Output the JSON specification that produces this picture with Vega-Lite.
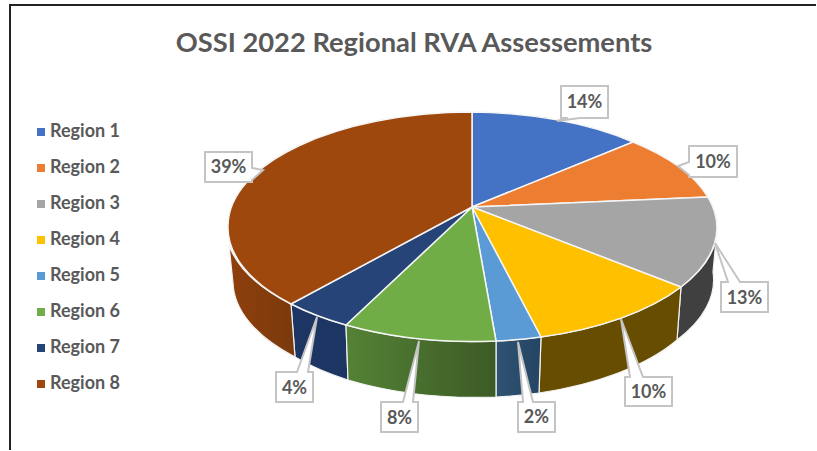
{
"$schema":"https://vega.github.io/schema/vega-lite/v6.json",
"width":816,"height":450,"padding":0,"autosize":{"type":"none"},
"background":"white",
"title":{"text":"OSSI 2022 Regional RVA Assessements","font":"Lato","fontWeight":"bold","fontSize":27.3,"color":"#595959","anchor":"middle","dx":6,"offset":-79,"baseline":"alphabetic"},
"config":{"view":{"stroke":null}},
"data":{"values":[
{"region":"Region 1","num":1,"pct":0.14},
{"region":"Region 2","num":2,"pct":0.10},
{"region":"Region 3","num":3,"pct":0.13},
{"region":"Region 4","num":4,"pct":0.10},
{"region":"Region 5","num":5,"pct":0.02},
{"region":"Region 6","num":6,"pct":0.08},
{"region":"Region 7","num":7,"pct":0.04},
{"region":"Region 8","num":8,"pct":0.39}
]},
"layer":[
{"data":{"values":[{"frame":"border"}]},
 "mark":{"type":"point","shape":"M-398 226L-398 -220L409 -220","size":4,"filled":false,"stroke":"#222222","strokeWidth":2,"opacity":1}},
{"transform":[{"filter":"datum.region == 'Region 3' || datum.region == 'Region 4' || datum.region == 'Region 7'"}],
 "mark":{"type":"point","filled":true,"size":4,"opacity":1,"stroke":"#f2f2f2","strokeWidth":1.2},
 "encoding":{
  "shape":{"field":"region","type":"nominal","legend":null,"scale":{"domain":["Region 3","Region 4","Region 7"],"range":[
   "M273 62A244.5 114 0 0 0 308 15L305 47A240 113 0 0 1 269 115Z",
   "M273 62A244.5 114 0 0 1 133 112L131 168A240 113 0 0 0 269 115Z",
   "M-62 100A244.5 114 0 0 1 -117 79L-113 132A240 113 0 0 0 -60 155Z"]}},
  "color":{"field":"region","type":"nominal","legend":null,"scale":{"domain":["Region 3","Region 4","Region 7"],"range":["#404040","#664d00","#1c3563"]}}
 }},
{"transform":[{"filter":"datum.region == 'Region 5'"}],
 "mark":{"type":"point","size":4,"opacity":1,"stroke":"#f2f2f2","strokeWidth":1.2,"shape":"M133 112A244.5 114 0 0 1 88 116L88 172A240 113 0 0 0 131 168Z",
  "filled":true,"fill":{"gradient":"linear","x1":0,"y1":0,"x2":1,"y2":0,"stops":[{"offset":0,"color":"#2f5373"},{"offset":1,"color":"#244563"}]}}},
{"transform":[{"filter":"datum.region == 'Region 6'"}],
 "mark":{"type":"point","size":4,"opacity":1,"stroke":"#f2f2f2","strokeWidth":1.2,"shape":"M88 116A244.5 114 0 0 1 -62 100L-60 155A240 113 0 0 0 88 172Z",
  "filled":true,"fill":{"gradient":"linear","x1":0,"y1":0,"x2":1,"y2":0,"stops":[{"offset":0,"color":"#548235"},{"offset":1,"color":"#3c5a26"}]}}},
{"transform":[{"filter":"datum.region == 'Region 8'"}],
 "mark":{"type":"point","size":4,"opacity":1,"stroke":"#f2f2f2","strokeWidth":1.2,"shape":"M-117 79A244.5 114 0 0 1 -179 20L-175 58A240 113 0 0 0 -113 132Z",
  "filled":true,"fill":{"gradient":"linear","x1":0,"y1":0,"x2":1,"y2":0,"stops":[{"offset":0,"color":"#8f3f0d"},{"offset":1,"color":"#7a3a0c"}]}}},
{"mark":{"type":"point","filled":true,"size":4,"opacity":1,"stroke":"#f5f5f5","strokeWidth":1.5},
 "encoding":{
  "shape":{"field":"region","type":"nominal","legend":null,"scale":{"domain":["Region 1","Region 2","Region 3","Region 4","Region 5","Region 6","Region 7","Region 8"],"range":[
   "M64 -18L64 -113A244.5 114 0 0 1 225 -83Z",
   "M64 -18L225 -83A244.5 114 0 0 1 300 -28Z",
   "M64 -18L300 -28A244.5 114 0 0 1 273 62Z",
   "M64 -18L273 62A244.5 114 0 0 1 133 112Z",
   "M64 -18L133 112A244.5 114 0 0 1 88 116Z",
   "M64 -18L88 116A244.5 114 0 0 1 -62 100Z",
   "M64 -18L-62 100A244.5 114 0 0 1 -117 79Z",
   "M64 -18L-117 79A244.5 114 0 0 1 -180 1A244.5 114 0 0 1 64 -113Z"]}},
  "color":{"field":"region","type":"nominal","legend":null,"scale":{"domain":["Region 1","Region 2","Region 3","Region 4","Region 5","Region 6","Region 7","Region 8"],"range":["#4472c4","#ed7d31","#a5a5a5","#ffc000","#5b9bd5","#70ad47","#264478","#9e480e"]}}
 }},
{"mark":{"type":"square","size":0,"opacity":1},
 "encoding":{
  "color":{"field":"region","type":"nominal","scale":{"domain":["Region 1","Region 2","Region 3","Region 4","Region 5","Region 6","Region 7","Region 8"],"range":["#4472c4","#ed7d31","#a5a5a5","#ffc000","#5b9bd5","#70ad47","#264478","#9e480e"]},
   "legend":{"title":null,"orient":"none","legendX":32,"legendY":123,"symbolType":"square","symbolSize":64,"symbolStrokeWidth":0,"symbolOpacity":1,"labelFont":"Lato","labelFontWeight":"bold","labelFontSize":18,"labelColor":"#595959","labelOffset":0,"rowPadding":18,"padding":0}}
 }},
{"mark":{"type":"point","filled":true,"size":4,"opacity":1,"fill":"white","stroke":"#c4c4c4","strokeWidth":2},
 "encoding":{
  "shape":{"field":"region","type":"nominal","legend":null,"scale":{"domain":["Region 1","Region 2","Region 3","Region 4","Region 5","Region 6","Region 7","Region 8"],"range":[
   "M153 -139L200 -139L200 -107L172 -107L149 -104L160 -107L153 -107Z",
   "M281 -79L329 -79L329 -48L281 -48L281 -50L270 -59L281 -63Z",
   "M313 57L320 57L307 18L332 57L360 57L360 87L313 87Z",
   "M217 152L222 152L213 94L235 152L264 152L264 181L217 181Z",
   "M110 177L115 177L110 117L125 177L147 177L147 207L110 207Z",
   "M-27 177L-5 177L11 116L5 177L10 177L10 207L-27 207Z",
   "M-132 147L-111 147L-91 92L-100 147L-95 147L-95 177L-132 177Z",
   "M-203 -73L-156 -73L-156 -57L-145 -55L-156 -45L-156 -43L-203 -43Z"]}}
 }},
{"mark":{"type":"text","font":"Lato","fontWeight":"bold","fontSize":18,"fill":"#595959","align":"center","baseline":"middle","dy":1.5},
 "encoding":{
  "text":{"field":"pct","type":"quantitative","format":".0%"},
  "theta":{"field":"num","type":"quantitative","stack":null,"scale":{"domain":[1,2,3,4,5,6,7,8],"range":[0.9620,1.3655,1.7816,2.1764,2.5520,3.1858,3.7527,5.0250]}},
  "radius":{"field":"num","type":"quantitative","scale":{"zero":false,"nice":false,"domain":[1,2,3,4,5,6,7,8],"range":[215.1,311.5,344.1,292.5,231.0,192.2,197.8,188.6]}}
 }}
],
"resolve":{"scale":{"shape":"independent","color":"independent","theta":"independent","radius":"independent"},"legend":{"color":"independent","shape":"independent"}}
}
